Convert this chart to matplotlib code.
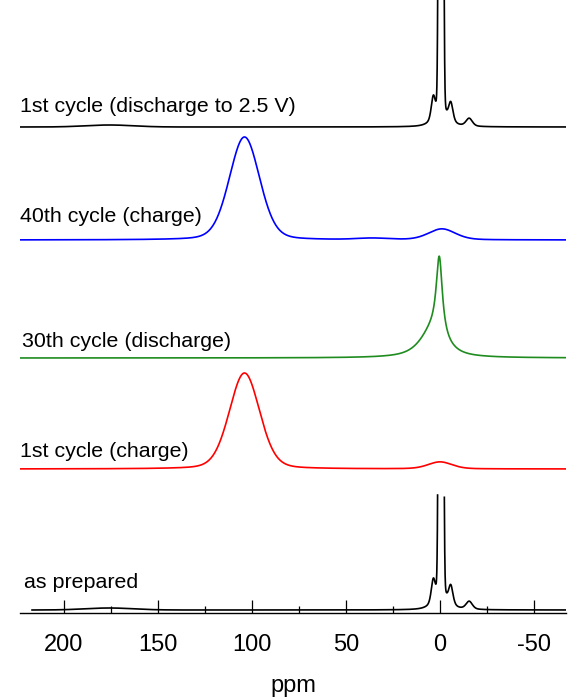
import numpy as np
import matplotlib.pyplot as plt
import matplotlib.transforms as mtransforms
from matplotlib.ticker import MultipleLocator

plt.rcParams['font.family'] = ['Liberation Sans', 'DejaVu Sans']
plt.rcParams['axes.unicode_minus'] = False

# chemical shift range of the spectra (ppm)
ppm_start = 225.0
ppm_end = -67.0
ppm_start_prepared = 217.0

# peak tables: (position ppm, height, fwhm ppm, lorentzian fraction)
peaks_prepared = [
    (-0.5, 3000.0, 1.6, 0.0),
    (-0.5, 22.0, 4.5, 0.5),
    (3.6, 24.0, 2.6, 0.5),
    (-5.7, 20.0, 2.8, 0.5),
    (-15.5, 8.0, 4.0, 0.4),
    (-0.5, 6.0, 11.0, 0.5),
    (176.0, 2.0, 30.0, 0.0),
]
peaks_charge_1 = [
    (104.0, 96.0, 19.0, 0.2),
    (0.0, 7.0, 15.0, 0.3),
]
peaks_discharge_30 = [
    (0.4, 80.0, 4.0, 1.0),
    (4.0, 26.0, 16.0, 0.8),
]
peaks_charge_40 = [
    (104.0, 103.0, 19.0, 0.2),
    (-1.0, 11.0, 17.0, 0.3),
    (36.0, 1.5, 20.0, 0.0),
]
peaks_discharge_1 = peaks_prepared

labels = ["as prepared", "1st cycle (charge)", "30th cycle (discharge)",
          "40th cycle (charge)", "1st cycle (discharge to 2.5 V)"]
colors = ["black", "#ff0000", "#1f8c1f", "#0000ff", "black"]
spectra = [peaks_prepared, peaks_charge_1, peaks_discharge_30,
           peaks_charge_40, peaks_discharge_1]

# vertical stacking of the traces and where tall peaks are cut off
offsets = [3, 144, 255, 373, 486]
cut_heights = [115, None, None, None, 140]
label_gaps = [22, 12, 11, 18, 15]
label_x = [0.007, 0.0, 0.004, 0.0, 0.0]


def pseudo_voigt(x, center, height, fwhm, eta):
    gauss = np.exp(-4 * np.log(2) * ((x - center) / fwhm) ** 2)
    lorentz = 1.0 / (1.0 + (2 * (x - center) / fwhm) ** 2)
    return height * ((1 - eta) * gauss + eta * lorentz)


def build_spectrum(x, peaks):
    y = np.zeros_like(x)
    for center, height, fwhm, eta in peaks:
        y += pseudo_voigt(x, center, height, fwhm, eta)
    return y


fig = plt.figure(figsize=(5.69, 6.98), dpi=100)
ax = fig.add_axes([20 / 569, 1 - 613 / 698, 546 / 569, 613 / 698])

for i, peaks in enumerate(spectra):
    start = ppm_start_prepared if i == 0 else ppm_start
    # fine grid so the cut-off walls of the sharp peak end cleanly
    x = np.linspace(start, ppm_end, 40000)
    y = build_spectrum(x, peaks)
    if cut_heights[i] is not None:
        y = np.where(y > cut_heights[i], np.nan, y)
    ax.plot(x, y + offsets[i], color=colors[i], lw=1.2)

# trace labels sit just above each baseline
trans = mtransforms.blended_transform_factory(ax.transAxes, ax.transData)
for i, text in enumerate(labels):
    ax.text(label_x[i], offsets[i] + label_gaps[i], text, transform=trans,
            fontsize=15.4, va='baseline', ha='left')

ax.set_xlim(223.4, -67.0)
ax.set_ylim(0, 613)

for side in ['left', 'top', 'right']:
    ax.spines[side].set_visible(False)
ax.spines['bottom'].set_linewidth(1.0)
ax.set_yticks([])

ax.xaxis.set_major_locator(MultipleLocator(50))
ax.xaxis.set_minor_locator(MultipleLocator(25))
ax.tick_params(axis='x', which='major', direction='in', length=9.4, width=0.9,
               labelsize=17, pad=15)
ax.tick_params(axis='x', which='minor', direction='in', length=5, width=0.9)
ax.set_xlabel("ppm", fontsize=17, labelpad=14)

fig.savefig("out.png", dpi=100)
